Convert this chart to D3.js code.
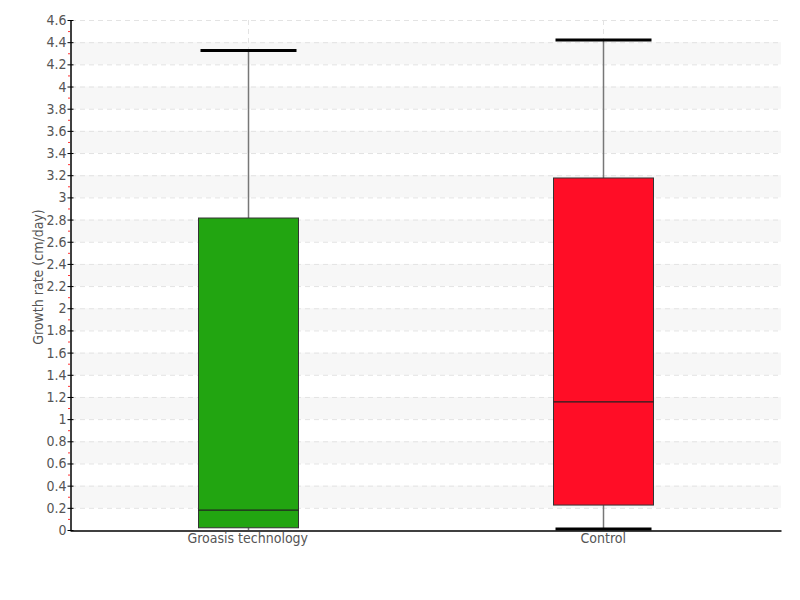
<!DOCTYPE html>
<html><head><meta charset="utf-8">
<script src="https://cdn.jsdelivr.net/npm/d3@7"></script>
<style>
body{margin:0;background:#fff;}
text{font-family:"DejaVu Sans Condensed","DejaVu Sans",sans-serif;font-stretch:condensed;fill:#555;}
</style></head><body>
<svg id="c" width="800" height="600"></svg>
<script>
const categories = ["Groasis technology", "Control"];
const mins = [0, 0.01];
const q1s = [0.02, 0.225];
const medians = [0.18, 1.155];
const q3s = [2.814, 3.175];
const maxs = [4.325, 4.42];
const colors = ["#22a511", "#ff0d26"];
const yTicks = d3.range(0, 4.61, 0.2).map(v => +v.toFixed(1));

const svg = d3.select("#c");
const mLeft = 70, mRight = 781, mTop = 20, mBottom = 530;
const x = d3.scaleBand().domain(categories).range([mLeft, mRight]);
const y = d3.scaleLinear().domain([0, 4.6]).range([mBottom, mTop]);

// alternating bands
const bandStarts = yTicks.filter((v,i) => i % 2 === 1 && v < 4.6);
svg.append("g").selectAll("rect").data(bandStarts).join("rect")
  .attr("x", mLeft + 1).attr("width", mRight - mLeft - 1)
  .attr("y", d => y(d + 0.2)).attr("height", d => y(d) - y(d + 0.2))
  .attr("fill", "#f7f7f7");

// horizontal grid
svg.append("g").selectAll("line").data(yTicks.filter(v => v > 0)).join("line")
  .attr("x1", mLeft + 1).attr("x2", mRight)
  .attr("y1", d => y(d) + 0.5).attr("y2", d => y(d) + 0.5)
  .attr("stroke", "#e3e3e3").attr("stroke-dasharray", "5,4");

// vertical grid at categories
svg.append("g").selectAll("line").data(categories).join("line")
  .attr("x1", d => Math.round(x(d) + x.bandwidth()/2) + 0.5)
  .attr("x2", d => Math.round(x(d) + x.bandwidth()/2) + 0.5)
  .attr("y1", mTop).attr("y2", mBottom)
  .attr("stroke", "#e3e3e3").attr("stroke-dasharray", "5,4");

// boxes
const data = categories.map((c, i) => ({c, min: mins[i], q1: q1s[i], med: medians[i], q3: q3s[i], max: maxs[i], color: colors[i]}));
const g = svg.append("g").selectAll("g").data(data).join("g");
const cx = d => Math.round(x(d.c) + x.bandwidth()/2) + 0.5;
const boxW = 100, capW = 96;
g.append("line").attr("x1", cx).attr("x2", cx)
  .attr("y1", d => y(d.max)).attr("y2", d => y(d.q3))
  .attr("stroke", "#777").attr("stroke-width", 1.5);
g.append("line").attr("x1", cx).attr("x2", cx)
  .attr("y1", d => y(d.q1)).attr("y2", d => y(d.min))
  .attr("stroke", "#777").attr("stroke-width", 1.5);
g.append("rect")
  .attr("x", d => cx(d) - boxW/2).attr("width", boxW)
  .attr("y", d => y(d.q3)).attr("height", d => y(d.q1) - y(d.q3))
  .attr("fill", d => d.color).attr("stroke", "#333").attr("stroke-width", 1);
g.append("line").attr("x1", d => cx(d) - boxW/2).attr("x2", d => cx(d) + boxW/2)
  .attr("y1", d => y(d.med)).attr("y2", d => y(d.med))
  .attr("stroke", "#222").attr("stroke-width", 1.2);
g.append("line").attr("x1", d => cx(d) - capW/2).attr("x2", d => cx(d) + capW/2)
  .attr("y1", d => y(d.max)).attr("y2", d => y(d.max))
  .attr("stroke", "#000").attr("stroke-width", 3);
g.filter(d => d.min > 0).append("line").attr("x1", d => cx(d) - capW/2).attr("x2", d => cx(d) + capW/2)
  .attr("y1", d => y(d.min)).attr("y2", d => y(d.min))
  .attr("stroke", "#000").attr("stroke-width", 3);

// minor red ticks
const minor = d3.range(0.1, 4.6, 0.2);
svg.append("g").selectAll("line").data(minor).join("line")
  .attr("x1", mLeft - 2).attr("x2", mLeft)
  .attr("y1", d => y(d) + 0.5).attr("y2", d => y(d) + 0.5)
  .attr("stroke", "#ff3333").attr("stroke-width", 1);

// y axis
const yAxis = svg.append("g").attr("transform", `translate(${mLeft + 0.5},0)`)
  .call(d3.axisLeft(y).tickValues(yTicks).tickFormat(d => d3.format("")(d)).tickSize(3).tickSizeOuter(0));
yAxis.select(".domain").attr("stroke", "#000").attr("stroke-width", 1.5);
yAxis.selectAll(".tick line").attr("stroke", "#000").attr("x2", 3).attr("x1", -3);
yAxis.selectAll(".tick text").attr("x", -4).style("font-size", "14px").attr("fill", "#555");

// x axis
const xAxis = svg.append("g").attr("transform", `translate(0,${mBottom + 0.5})`)
  .call(d3.axisBottom(x).tickSize(0).tickSizeOuter(0));
xAxis.select(".domain").attr("stroke", "#000").attr("stroke-width", 1.5);
xAxis.selectAll(".tick text").attr("y", 3).style("font-size", "14px").attr("fill", "#555");

// y title
svg.append("text").attr("transform", `translate(43,${(mTop+mBottom)/2 + 2}) rotate(-90)`)
  .attr("text-anchor", "middle").style("font-size", "14px").attr("fill", "#555")
  .text("Growth rate (cm/day)");
</script></body></html>
